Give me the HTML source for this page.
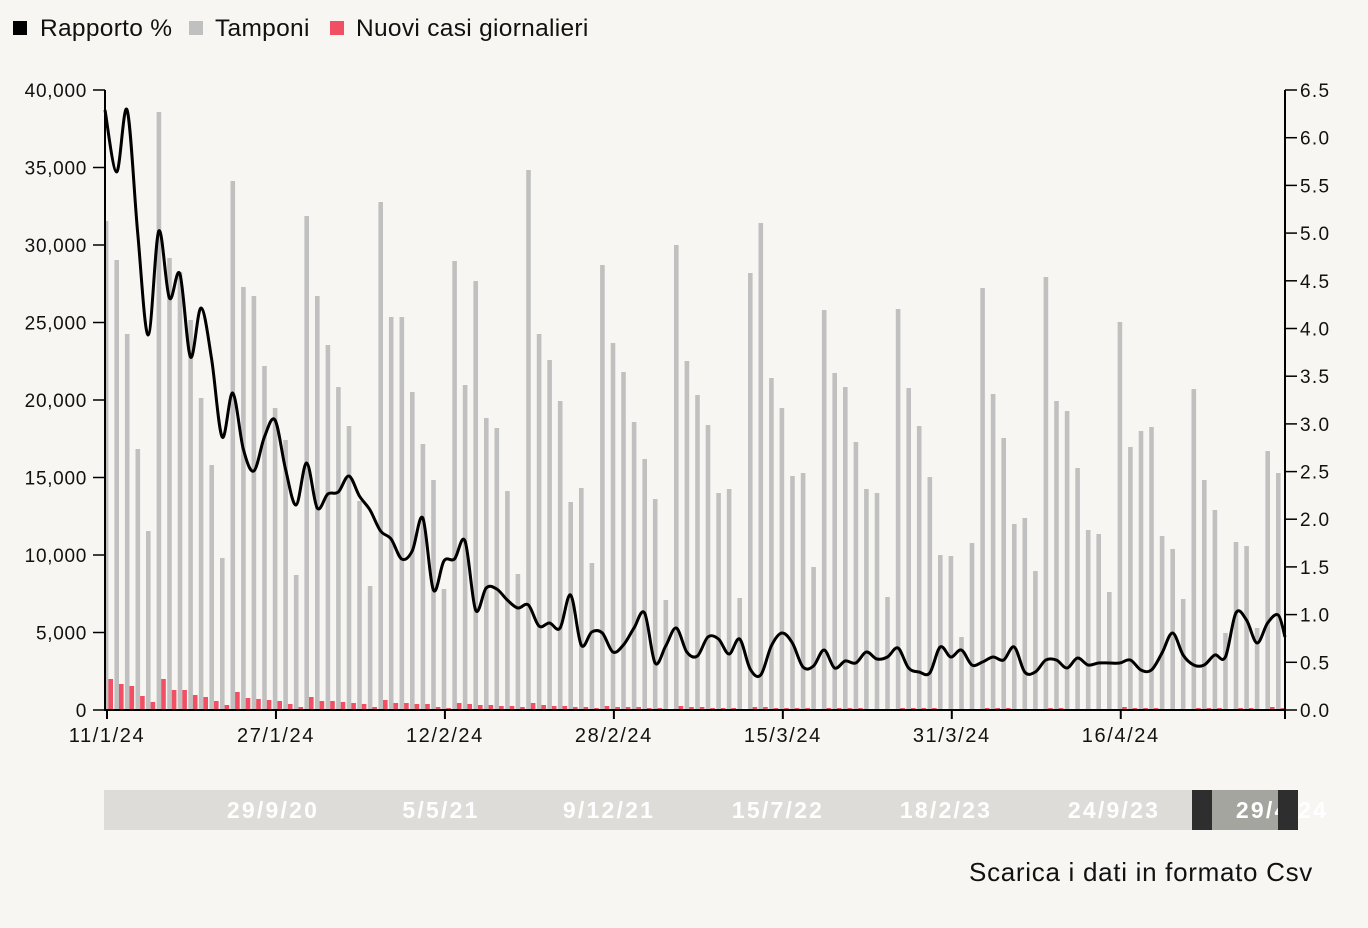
<!DOCTYPE html>
<html><head><meta charset="utf-8"><style>
html,body{margin:0;padding:0;background:#f7f6f2;width:1368px;height:928px;overflow:hidden;font-family:"Liberation Sans",sans-serif;}
svg{position:absolute;left:0;top:0;}
</style></head><body>
<svg id="c" width="1368" height="928" xmlns="http://www.w3.org/2000/svg"></svg>
<script>
var g=[221,260,334,449,531,112,258,272,320,398,465,558,181,287,296,366,408,440,575,216,296,345,387,426,501,586,202,317,317,392,444,480,589,261,385,281,418,428,491,574,170,334,360,401,502,488,563,265,343,372,422,459,499,600,245,361,395,425,493,489,598,273,223,378,408,476,473,567,310,373,387,442,489,493,597,309,388,426,477,555,556,637,543,288,394,438,524,518,571,277,401,411,468,530,534,592,322,447,431,427,536,549,599,389,480,510,633,542,546,628,451,473];
var r=[679,684,686,696,702,679,690,690,695,697,701,705,692,698,699,700,701,704,707,697,701,701,702,703,704,707,700,703,703,704,704,707,708,703,704,705,705,706,706,707,703,705,706,706,707,707,708,706,707,707,707,708,708,709,706,707,707,708,708,708,709,707,707,708,708,708,708,709,708,708,708,708,709,709,709,708,708,708,708,709,709,709,709,708,708,708,709,709,709,708,708,709,709,709,709,709,707,708,708,708,709,709,709,708,708,708,709,708,708,709,707,708];
var L=[110,172,110,233,335,231,298,274,357,308,359,437,393,449,471,437,420,469,505,463,508,494,492,476,496,510,531,539,559,551,518,590,561,559,541,610,588,589,600,608,605,626,623,628,595,645,632,633,652,645,628,613,663,646,628,652,656,637,639,654,639,669,675,646,633,643,667,666,650,668,661,663,652,659,657,648,668,672,673,647,657,650,665,662,657,660,647,672,672,660,660,668,658,665,663,663,663,660,670,670,653,633,655,665,665,655,657,613,620,643,623,615];
var s='';
var lg='font-size="24.5" letter-spacing="0.3" fill="#111"';
s+='<rect x="13" y="21" width="14" height="14" fill="#000"/><text x="40" y="36" '+lg+'>Rapporto %</text>';
s+='<rect x="189" y="21" width="14" height="14" fill="#c0c0c0"/><text x="215" y="36" '+lg+'>Tamponi</text>';
s+='<rect x="330" y="21" width="14" height="14" fill="#f04f64"/><text x="356" y="36" '+lg+'>Nuovi casi giornalieri</text>';
for(var i=0;i<g.length;i++){var x=103.8+10.56*i;var gx=Math.max(x,106);
s+='<rect x="'+gx.toFixed(1)+'" y="'+g[i]+'" width="'+(x+4.6-gx).toFixed(1)+'" height="'+(710-g[i])+'" fill="#c0c0c0"/>';
s+='<rect x="'+(x+4.6).toFixed(1)+'" y="'+r[i]+'" width="4.6" height="'+(710-r[i])+'" fill="#f04f64"/>';}
var P=L.map(function(y,i){return [Math.min(106+10.56*i,1283),y]});P.push([1285,637]);P[0][0]=105;
var d='M'+P[0][0]+','+P[0][1];
for(var i=0;i<P.length-1;i++){var p0=P[Math.max(i-1,0)],p1=P[i],p2=P[i+1],p3=P[Math.min(i+2,P.length-1)];
d+=' C'+(p1[0]+(p2[0]-p0[0])/6).toFixed(1)+','+(p1[1]+(p2[1]-p0[1])/6).toFixed(1)+' '+(p2[0]-(p3[0]-p1[0])/6).toFixed(1)+','+(p2[1]-(p3[1]-p1[1])/6).toFixed(1)+' '+p2[0].toFixed(1)+','+p2[1];}
s+='<path d="'+d+'" fill="none" stroke="#000" stroke-width="3"/>';
s+='<line x1="105" y1="90" x2="105" y2="711" stroke="#000" stroke-width="2"/><line x1="1285" y1="90" x2="1285" y2="711" stroke="#000" stroke-width="2"/><line x1="104" y1="710" x2="1286" y2="710" stroke="#000" stroke-width="2"/>';
var lv=['0','5,000','10,000','15,000','20,000','25,000','30,000','35,000','40,000'];
for(var k=0;k<9;k++){var y=710-77.5*k;s+='<line x1="93" y1="'+y+'" x2="105" y2="'+y+'" stroke="#000" stroke-width="1.5"/><text x="87" y="'+(y+7)+'" font-size="19" letter-spacing="0.7" text-anchor="end" fill="#111">'+lv[k]+'</text>';}
for(var k=0;k<=13;k++){var y=710-47.69*k;s+='<line x1="1285" y1="'+y.toFixed(1)+'" x2="1297" y2="'+y.toFixed(1)+'" stroke="#000" stroke-width="1.5"/><text x="1300" y="'+(y+7).toFixed(1)+'" font-size="19" letter-spacing="1.3" fill="#111">'+(k*0.5).toFixed(1)+'</text>';}
var dl=['11/1/24','27/1/24','12/2/24','28/2/24','15/3/24','31/3/24','16/4/24'];
for(var k=0;k<7;k++){var x=107+168.96*k;s+='<line x1="'+x+'" y1="710" x2="'+x+'" y2="719" stroke="#000" stroke-width="2"/><text x="'+x+'" y="742" font-size="20" letter-spacing="1.6" text-anchor="middle" fill="#111">'+dl[k]+'</text>';}
s+='<line x1="1285" y1="710" x2="1285" y2="719" stroke="#000" stroke-width="2"/>';
s+='<rect x="104" y="790" width="1088" height="40" fill="#dddcd8"/><rect x="1212" y="790" width="66" height="40" fill="#a5a5a0"/>';
var sl=[['29/9/20',273],['5/5/21',441],['9/12/21',609],['15/7/22',778],['18/2/23',946],['24/9/23',1114],['29/4/24',1282]];
for(var k=0;k<7;k++){s+='<text x="'+sl[k][1]+'" y="818" font-size="23" font-weight="bold" letter-spacing="2.2" text-anchor="middle" fill="#fff">'+sl[k][0]+'</text>';}
s+='<rect x="1192" y="790" width="20" height="40" fill="#2e2e2e"/><rect x="1278" y="790" width="20" height="40" fill="#2e2e2e"/>';
s+='<text x="1313" y="881" font-size="26" letter-spacing="0.7" text-anchor="end" fill="#111">Scarica i dati in formato Csv</text>';
document.getElementById('c').innerHTML=s;
</script>
</body></html>
